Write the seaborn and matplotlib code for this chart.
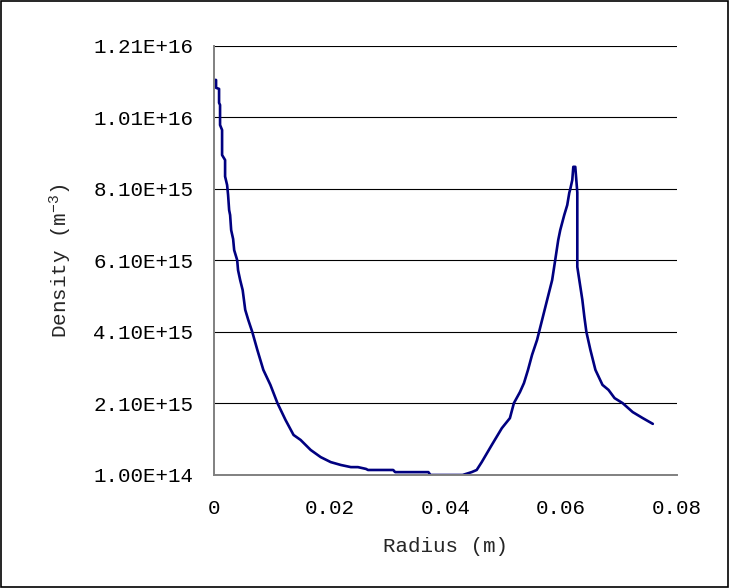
import matplotlib
matplotlib.use("Agg")
from matplotlib import pyplot as plt
from matplotlib.patches import Rectangle
import pandas as pd
import seaborn as sns

# values (radius in m, density in 1E15 m^-3)
radius = [0, 0.00035, 0.00035, 0.00087, 0.00087, 0.00104, 0.00104, 0.00139, 0.00139,
          0.00191, 0.00191, 0.00226, 0.00243, 0.00261, 0.00278, 0.00296, 0.0033, 0.00348,
          0.004, 0.00415, 0.00452, 0.00495, 0.00539, 0.00591, 0.00661, 0.00748, 0.00852,
          0.00974, 0.01096, 0.01235, 0.01374, 0.01496, 0.0167, 0.01843, 0.02017, 0.02191,
          0.02365, 0.02487, 0.02626, 0.02661, 0.03096, 0.0313, 0.03704, 0.0374, 0.04296,
          0.04452, 0.04539, 0.04626, 0.048, 0.04974, 0.05113, 0.05182, 0.05287, 0.05356,
          0.05426, 0.05496, 0.05583, 0.05617, 0.0567, 0.05757, 0.05843, 0.05896, 0.05948,
          0.05983, 0.06052, 0.06104, 0.06139, 0.06157, 0.06191, 0.06209, 0.06243, 0.06278,
          0.06278, 0.06313, 0.06365, 0.064, 0.06435, 0.06504, 0.06591, 0.06713, 0.06817,
          0.06922, 0.07061, 0.07235, 0.0741, 0.07583]
density_e15 = [11.15, 11.15, 10.93, 10.90, 10.51, 10.45, 9.89, 9.75, 9.05,
               8.91, 8.45, 8.21, 7.93, 7.51, 7.37, 6.95, 6.70, 6.39,
               6.11, 5.83, 5.55, 5.27, 4.72, 4.44, 4.10, 3.60, 3.04,
               2.62, 2.11, 1.64, 1.22, 1.08, 0.80, 0.60, 0.46, 0.38,
               0.32, 0.32, 0.27, 0.24, 0.24, 0.18, 0.18, 0.10, 0.10,
               0.18, 0.24, 0.46, 0.94, 1.41, 1.69, 2.11, 2.42, 2.67,
               3.04, 3.46, 3.88, 4.10, 4.44, 5.00, 5.55, 6.11, 6.67,
               6.95, 7.37, 7.65, 7.99, 8.10, 8.35, 8.72, 8.72, 8.00,
               5.92, 5.55, 5.00, 4.52, 4.10, 3.60, 3.04, 2.62, 2.48,
               2.25, 2.11, 1.86, 1.69, 1.53]

x_ticks = [0, 0.02, 0.04, 0.06, 0.08]
x_labels = ["0", "0.02", "0.04", "0.06", "0.08"]
y_ticks = [1.00e14, 2.10e15, 4.10e15, 6.10e15, 8.10e15, 1.01e16, 1.21e16]
y_labels = ["1.00E+14", "2.10E+15", "4.10E+15", "6.10E+15", "8.10E+15", "1.01E+16", "1.21E+16"]

df = pd.DataFrame({"Radius": radius, "Density": [d * 1e15 for d in density_e15]})

sns.set_style("white")
plt.rcParams["font.family"] = ["Liberation Mono", "DejaVu Sans Mono"]
plt.rcParams["mathtext.fontset"] = "custom"
plt.rcParams["mathtext.rm"] = "Liberation Mono"
plt.rcParams["mathtext.it"] = "Liberation Mono"

fig = plt.figure(figsize=(7.29, 5.88), dpi=100)
ax = fig.add_axes([0.2936, 0.1922, 0.635, 0.7296])

sns.lineplot(data=df, x="Radius", y="Density", sort=False, estimator=None,
             color="#000080", linewidth=1.9, ax=ax)

ax.set_xlim(0, 0.08)
ax.set_ylim(1.00e14, 1.21e16)
ax.set_xticks(x_ticks)
ax.set_xticklabels(x_labels)
ax.set_yticks(y_ticks)
ax.set_yticklabels(y_labels)

ax.yaxis.grid(True, color="black", linewidth=0.8)
ax.xaxis.grid(False)

for side in ["top", "right"]:
    ax.spines[side].set_visible(False)
for side in ["left", "bottom"]:
    ax.spines[side].set_color("#808080")
    ax.spines[side].set_linewidth(1.4)

ax.tick_params(axis="x", direction="in", length=6, width=1, color="#808080",
               pad=17, labelsize=15, labelcolor="black")
ax.tick_params(axis="y", direction="in", length=3, width=1.5, color="black",
               pad=15, labelsize=15, labelcolor="black")

ax.set_xlabel("Radius (m)", fontsize=15, labelpad=14)
ax.set_ylabel("Density (m$^{-3}$)", fontsize=15, labelpad=14)

# black frame around the whole chart
fig.patches.append(Rectangle((0.002, 0.002), 0.996, 0.996, transform=fig.transFigure,
                             fill=False, edgecolor="black", linewidth=1.2))

fig.savefig("out.png", dpi=100)
